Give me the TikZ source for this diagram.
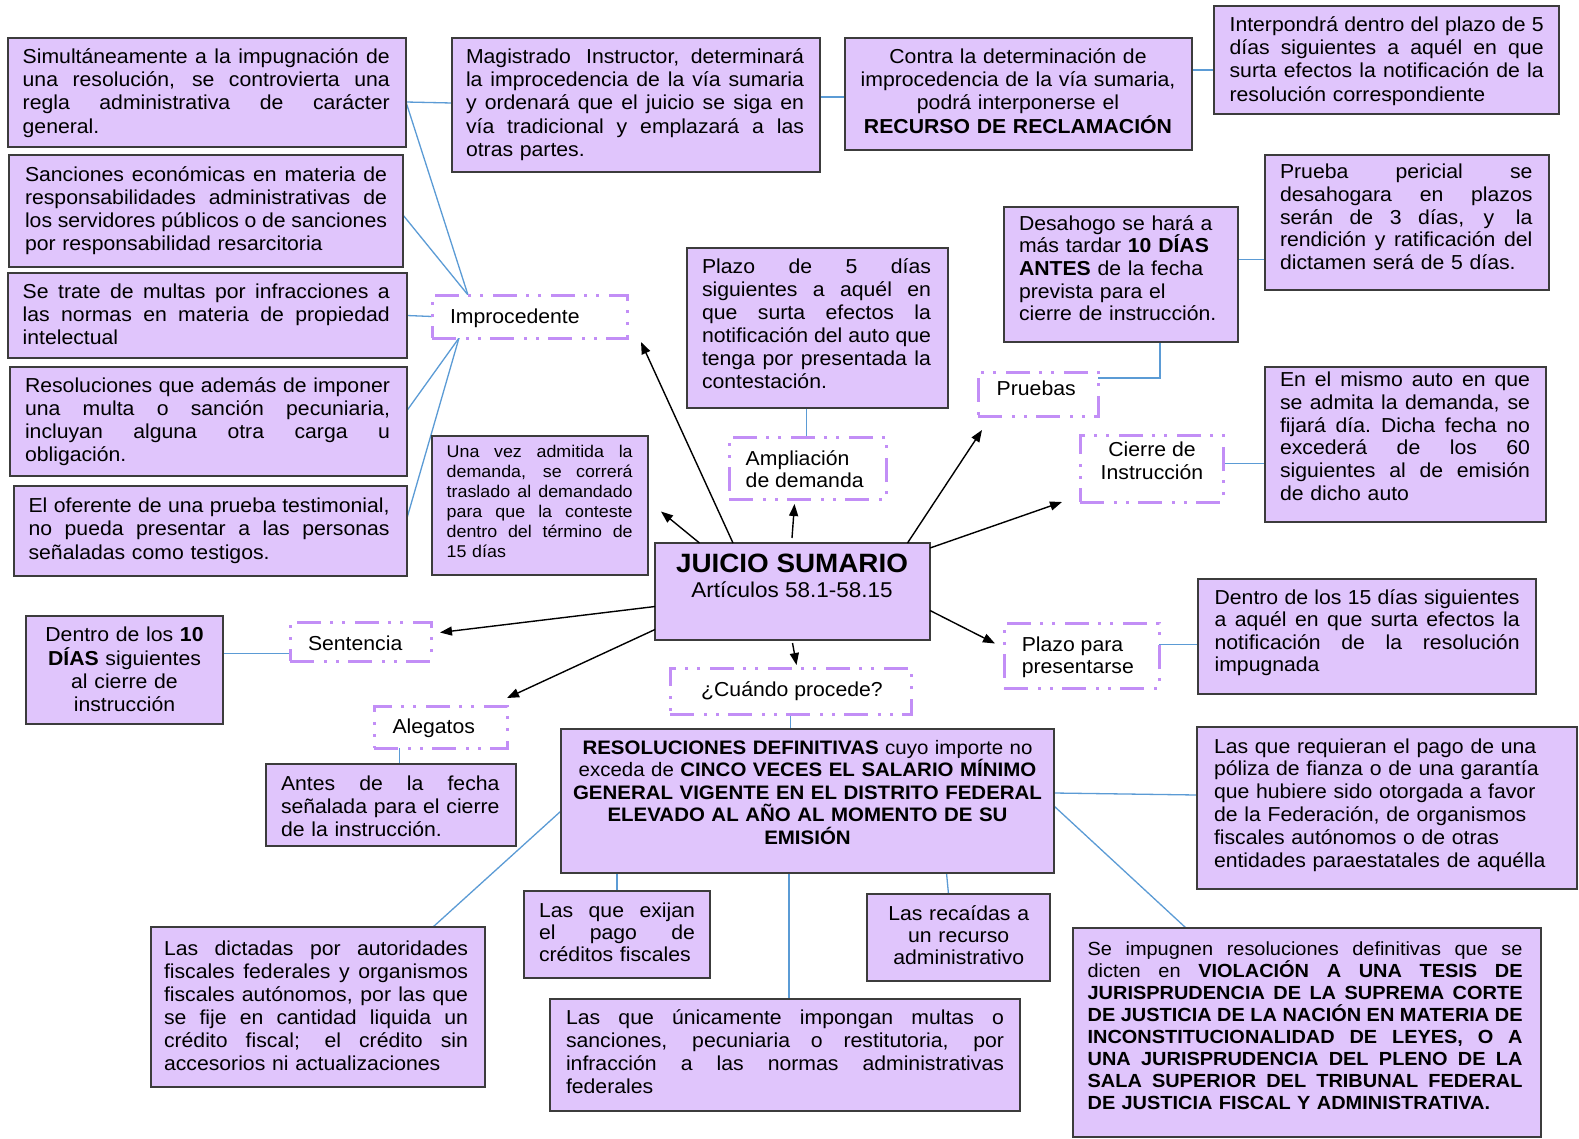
\documentclass[tikz,border=0pt]{standalone}
\usepackage{fontspec}
\setmainfont{Liberation Sans}[FakeStretch=1.05]
\usetikzlibrary{arrows.meta,calc}
\pgfdeclarelayer{bg}
\pgfsetlayers{bg,main}

\definecolor{boxfill}{RGB}{224,197,252}
\definecolor{boxedge}{RGB}{60,60,60}
\definecolor{dashc}{RGB}{194,142,246}
\definecolor{linkc}{RGB}{91,155,213}

% one justified line of a fixed-width text block: every word space stretches evenly
\def\jwid{100pt}
\newcommand\jl[1]{\leavevmode\hbox to \jwid{\spaceskip=0.25em plus 1fil\relax #1}\\}
% a doubled word space inside a justified line
\newcommand\wide{\hskip 0.5em plus 1fil\relax}
% rectangle given by its corners: style, name, x1, y1, x2, y2
\newcommand\boxat[6]{%
  \node[#1, minimum width={(#5-#3)*1pt}, minimum height={(#6-#4)*1pt}] (#2)
    at ({(#3+#5)/2},{(#4+#6)/2}) {};}

\begin{document}
\begin{tikzpicture}[x=1pt,y=-1pt,
  panel/.style={draw=boxedge, fill=boxfill, line width=1.6pt, inner sep=0pt, outer sep=0pt},
  hollow/.style={draw=dashc, fill=white, line width=3pt, inner sep=0pt, outer sep=0pt,
    dash pattern=on 24pt off 10pt on 3pt off 9pt on 3pt off 9pt},
  tx/.style={anchor=base west, inner sep=0pt, outer sep=0pt, align=left,
    font=\fontsize{20.2}{23.2}\selectfont},
  txc/.style={anchor=base, inner sep=0pt, outer sep=0pt, align=center,
    font=\fontsize{20.2}{23.2}\selectfont},
  jw/.style={text width=#1},
  link/.style={draw=linkc, line width=1.3pt},
  arr/.style={draw=black, line width=1.4pt, -{Triangle[length=12pt,width=9pt]}}
]
\begin{pgfonlayer}{bg}
  \fill[white] (0,0) rectangle (1579,1138);
\end{pgfonlayer}
\useasboundingbox (0,0) rectangle (1579,1138);

% ---------- filled panels ----------
\boxat{panel}{A1}{8}{38}{406}{147}
\boxat{panel}{A2}{9}{155}{403}{267}
\boxat{panel}{A3}{8}{273}{407}{358}
\boxat{panel}{A4}{10}{367}{407}{476}
\boxat{panel}{A5}{14}{486}{407}{576}
\boxat{panel}{Mag}{452}{38}{820}{172}
\boxat{panel}{Con}{845}{38}{1192}{150}
\boxat{panel}{Int}{1214}{6}{1559}{114}
\boxat{panel}{Per}{1265}{155}{1549}{290}
\boxat{panel}{Des}{1004}{207}{1238}{342}
\boxat{panel}{P5}{687}{248}{948}{408}
\boxat{panel}{EnM}{1265}{367}{1546}{522}
\boxat{panel}{Una}{432}{436}{648}{575}
\boxat{panel}{Jui}{655}{543}{930}{640}
\boxat{panel}{D10}{26}{616}{223}{724}
\boxat{panel}{Ant}{266}{764}{516}{846}
\boxat{panel}{D15}{1198}{579}{1536}{694}
\boxat{panel}{Res}{561}{729}{1054}{873}
\boxat{panel}{Req}{1197}{727}{1577}{889}
\boxat{panel}{Dic}{151}{927}{485}{1087}
\boxat{panel}{Exi}{524}{891}{710}{978}
\boxat{panel}{Rec}{867}{894}{1050}{981}
\boxat{panel}{Uni}{550}{999}{1020}{1111}
\boxat{panel}{Sei}{1073}{928}{1541}{1137}

% ---------- dash-dot-dot labels ----------
\boxat{hollow}{Imp}{432}{295}{627}{338}
\boxat{hollow}{Amp}{729}{437}{886}{499}
\boxat{hollow}{Prb}{978}{372}{1098}{416}
\boxat{hollow}{Cie}{1080}{435}{1223}{502}
\boxat{hollow}{Sen}{290}{622}{431}{661}
\boxat{hollow}{Ale}{374}{706}{507}{748}
\boxat{hollow}{Cua}{670}{668}{911}{714}
\boxat{hollow}{PPr}{1004}{623}{1159}{688}

% ---------- texts ----------
\def\jwid{367pt}
\node[tx, jw=367pt] (tA1) at (22.7,63.5) {%
\jl{Simultáneamente a la impugnación de}
\jl{una resolución, se controvierta una}
\jl{regla administrativa de carácter}
general.};
\def\jwid{362pt}
\node[tx, jw=362pt] (tA2) at (25,181) {%
\jl{Sanciones económicas en materia de}
\jl{responsabilidades administrativas de}
\jl{los servidores públicos o de sanciones}
por responsabilidad resarcitoria};
\def\jwid{367pt}
\node[tx, jw=367pt] (tA3) at (22.7,298.3) {%
\jl{Se trate de multas por infracciones a}
\jl{las normas en materia de propiedad}
intelectual};
\def\jwid{365pt}
\node[tx, jw=365pt] (tA4) at (25,392) {%
\jl{Resoluciones que además de imponer}
\jl{una multa o sanción pecuniaria,}
\jl{incluyan alguna otra carga u}
obligación.};
\def\jwid{361pt}
\node[tx, jw=361pt] (tA5) at (28.6,512.7) {%
\jl{El oferente de una prueba testimonial,}
\jl{no pueda presentar a las personas}
señaladas como testigos.};
\def\jwid{338pt}
\node[tx, jw=338pt] (tMag) at (466,63.5) {%
\jl{Magistrado\wide Instructor, determinará}
\jl{la improcedencia de la vía sumaria}
\jl{y ordenará que el juicio se siga en}
\jl{vía tradicional y emplazará a las}
otras partes.};
\node[txc, text width=340pt] (tCon) at (1018,63.5) {%
Contra la determinación de\\
improcedencia de la vía sumaria,\\
podrá interponerse el\\
\textbf{RECURSO DE RECLAMACIÓN}};
\def\jwid{314pt}
\node[tx, jw=314pt] (tInt) at (1229.6,31.5) {%
\jl{Interpondrá dentro del plazo de 5}
\jl{días siguientes a aquél en que}
\jl{surta efectos la notificación de la}
resolución correspondiente};
\def\jwid{252.5pt}
\node[tx, jw=252.5pt, font=\fontsize{20.2}{22.8}\selectfont] (tPer) at (1280,178.5) {%
\jl{Prueba pericial se}
\jl{desahogara en plazos}
\jl{serán de 3 días, y\wide la}
\jl{rendición y ratificación del}
dictamen será de 5 días.};
\node[tx, text width=210pt, font=\fontsize{20.2}{22.7}\selectfont] (tDes) at (1019,230) {%
Desahogo se hará a\\
más tardar \textbf{10 DÍAS}\\
\textbf{ANTES} de la fecha\\
prevista para el\\
cierre de instrucción.};
\def\jwid{229pt}
\node[tx, jw=229pt, font=\fontsize{20.2}{23}\selectfont] (tP5) at (702,273.3) {%
\jl{Plazo de 5 días}
\jl{siguientes a aquél en}
\jl{que surta efectos la}
\jl{notificación del auto que}
\jl{tenga por presentada la}
contestación.};
\def\jwid{250pt}
\node[tx, jw=250pt, font=\fontsize{20.2}{22.7}\selectfont] (tEnM) at (1280,386.7) {%
\jl{En el mismo auto en que}
\jl{se admita la demanda, se}
\jl{fijará día. Dicha fecha no}
\jl{excederá de los 60}
\jl{siguientes al de emisión}
de dicho auto};
\def\jwid{186pt}
\node[tx, jw=186pt, font=\fontsize{17}{20}\selectfont] (tUna) at (446.7,457.3) {%
\jl{Una vez admitida la}
\jl{demanda, se correrá}
\jl{traslado al demandado}
\jl{para que la conteste}
\jl{dentro del término de}
15 días};
\node[txc, font=\fontsize{26.5}{30}\selectfont\bfseries] (tJui) at (792,572.3) {JUICIO SUMARIO};
\node[txc, font=\fontsize{21.4}{25}\selectfont] (tArt) at (792,597.3) {Artículos 58.1-58.15};
\node[txc, text width=190pt, font=\fontsize{20.2}{23.3}\selectfont] (tD10) at (124.5,641.7) {%
Dentro de los \textbf{10}\\
\textbf{DÍAS} siguientes\\
al cierre de\\
instrucción};
\def\jwid{218.5pt}
\node[tx, jw=218.5pt] (tAnt) at (281,790.5) {%
\jl{Antes de la fecha}
\jl{señalada para el cierre}
de la instrucción.};
\def\jwid{305pt}
\node[tx, jw=305pt, font=\fontsize{20.2}{22.6}\selectfont] (tD15) at (1214.6,604) {%
\jl{Dentro de los 15 días siguientes}
\jl{a aquél en que surta efectos la}
\jl{notificación de la resolución}
impugnada};
\node[txc, text width=485pt, font=\fontsize{19.5}{22.5}\selectfont] (tRes) at (807.5,754.3) {%
\textbf{RESOLUCIONES DEFINITIVAS} cuyo importe no\\
exceda de \textbf{CINCO VECES EL SALARIO MÍNIMO}\\
\textbf{GENERAL VIGENTE EN EL DISTRITO FEDERAL}\\
\textbf{ELEVADO AL AÑO AL MOMENTO DE SU}\\
\textbf{EMISIÓN}};
\node[tx, text width=360pt, font=\fontsize{20.2}{22.9}\selectfont] (tReq) at (1214,753) {%
Las que requieran el pago de una\\
póliza de fianza o de una garantía\\
que hubiere sido otorgada a favor\\
de la Federación, de organismos\\
fiscales autónomos o de otras\\
entidades paraestatales de aquélla};
\def\jwid{304pt}
\node[tx, jw=304pt, font=\fontsize{20.2}{23}\selectfont] (tDic) at (164,955.3) {%
\jl{Las dictadas por autoridades}
\jl{fiscales federales y organismos}
\jl{fiscales autónomos, por las que}
\jl{se fije en cantidad liquida un}
\jl{crédito fiscal; el crédito sin}
accesorios ni actualizaciones};
\def\jwid{156pt}
\node[tx, jw=156pt, font=\fontsize{20.2}{22}\selectfont] (tExi) at (539,917.5) {%
\jl{Las que exijan}
\jl{el pago de}
créditos fiscales};
\node[txc, text width=175pt, font=\fontsize{20.2}{22.2}\selectfont] (tRec) at (958.7,920.5) {%
Las recaídas a\\
un recurso\\
administrativo};
\def\jwid{438pt}
\node[tx, jw=438pt, font=\fontsize{20.2}{23}\selectfont] (tUni) at (566,1024) {%
\jl{Las que únicamente impongan multas o}
\jl{sanciones, pecuniaria o restitutoria, por}
\jl{infracción a las normas administrativas}
federales};
\def\jwid{435pt}
\node[tx, jw=435pt, font=\fontsize{19}{22}\selectfont] (tSei) at (1087.6,955) {%
\jl{Se impugnen resoluciones definitivas que se}
\jl{dicten en \textbf{VIOLACIÓN A UNA TESIS DE}}
\jl{\textbf{JURISPRUDENCIA DE LA SUPREMA CORTE}}
\jl{\textbf{DE JUSTICIA DE LA NACIÓN EN MATERIA DE}}
\jl{\textbf{INCONSTITUCIONALIDAD DE LEYES, O A}}
\jl{\textbf{UNA JURISPRUDENCIA DEL PLENO DE LA}}
\jl{\textbf{SALA SUPERIOR DEL TRIBUNAL FEDERAL}}
\textbf{DE JUSTICIA FISCAL Y ADMINISTRATIVA.}};

% labels inside the dash-dot-dot boxes (two-line ones sit on their last baseline)
\node[tx] (tImp) at (450,323) {Improcedente};
\node[tx, font=\fontsize{20.2}{22.7}\selectfont] (tAmp) at (745.7,487.7) {Ampliación\\de demanda};
\node[tx] (tPrb) at (996.7,395) {Pruebas};
\node[txc, font=\fontsize{20.2}{22.6}\selectfont] (tCie) at (1152,479.3) {Cierre de\\Instrucción};
\node[tx] (tSen) at (308,650) {Sentencia};
\node[tx] (tAle) at (392.5,733.3) {Alegatos};
\node[txc] (tCua) at (792,696.7) {¿Cuándo procede?};
\node[tx, font=\fontsize{20.2}{22.3}\selectfont] (tPPr) at (1021.8,673.3) {Plazo para\\presentarse};

% ---------- blue links ----------
\begin{pgfonlayer}{bg}
  \draw[link] ([yshift=-9.5pt]A1.east) -- ([yshift=2pt]Mag.west);
  \draw[link] ([yshift=-9.5pt]A1.east) -- ([xshift=36pt]Imp.north west);
  \draw[link] ([yshift=-4pt]A2.east) -- ([xshift=36pt]Imp.north west);
  \draw[link] (A3.east) -- (Imp.west);
  \draw[link] ([xshift=27pt]Imp.south west) -- ([yshift=11pt]A4.east);
  \draw[link] ([xshift=27pt]Imp.south west) -- ([yshift=13pt]A5.east);
  \draw[link] ([yshift=8pt]Mag.east) -- ([yshift=-3pt]Con.west);
  \draw[link] ([yshift=24pt]Con.east) -- ([yshift=-10pt]Int.west);
  \draw[link] ([yshift=15pt]Des.east) -- ([yshift=15pt]Des.east -| Per.west);
  \draw[link] ([xshift=39pt]Des.south) |- ([yshift=16pt]Prb.east);
  \draw[link] ([yshift=5pt]Cie.east) -- ([yshift=5pt]Cie.east -| EnM.west);
  \draw[link] ([xshift=-11pt]P5.south) -- ([xshift=-1pt]Amp.north);
  \draw[link] ([yshift=-12pt]Sen.west) -- ([yshift=-12pt]Sen.west -| D10.east);
  \draw[link] ([xshift=-41pt]Ale.south) -- ([xshift=-41pt]Ale.south |- Ant.north);
  \draw[link] ([yshift=11pt]PPr.east) -- ([yshift=11pt]PPr.east -| D15.west);
  \draw[link] (Cua.south) -- (Cua.south |- Res.north);
  \draw[link] ([yshift=8pt]Res.east) -- ([yshift=13pt]Req.west);
  \draw[link] ([yshift=-5pt]Res.east) -- ([xshift=113pt]Sei.north west);
  \draw[link] ([yshift=-10pt]Res.west) -- ([xshift=282pt]Dic.north west);
  \draw[link] (Exi.north |- Res.south) -- (Exi.north);
  \draw[link] ([xshift=4pt]Uni.north |- Res.south) -- ([xshift=4pt]Uni.north);
  \draw[link] ([xshift=-12pt]Rec.north |- Res.south) -- ([xshift=-10pt]Rec.north);
\end{pgfonlayer}

% ---------- arrows out of the central panel ----------
\draw[arr] ([xshift=-59.5pt]Jui.north) -- ([shift={(14pt,-4pt)}]Imp.south east);
\draw[arr] ([xshift=-93pt]Jui.north) -- ([shift={(13pt,-6pt)}]Una.east);
\draw[arr] ([shift={(-0.5pt,5pt)}]Jui.north) -- ([shift={(-13pt,-5pt)}]Amp.south);
\draw[arr] ([xshift=115pt]Jui.north) -- ([shift={(4pt,-14pt)}]Prb.south west);
\draw[arr] ([yshift=-5pt]Jui.north east) -- ([xshift=-18pt]Cie.south west);
\draw[arr] ([yshift=-19pt]Jui.east) -- ([shift={(-9pt,12pt)}]PPr.west);
\draw[arr] ([yshift=-3pt]Jui.south) -- ([shift={(6pt,3pt)}]Cua.north);
\draw[arr] ([yshift=-15pt]Jui.west) -- ([shift={(9pt,9pt)}]Sen.east);
\draw[arr] ([yshift=-38pt]Jui.west) -- ([yshift=8pt]Ale.north east);
\end{tikzpicture}
\end{document}
